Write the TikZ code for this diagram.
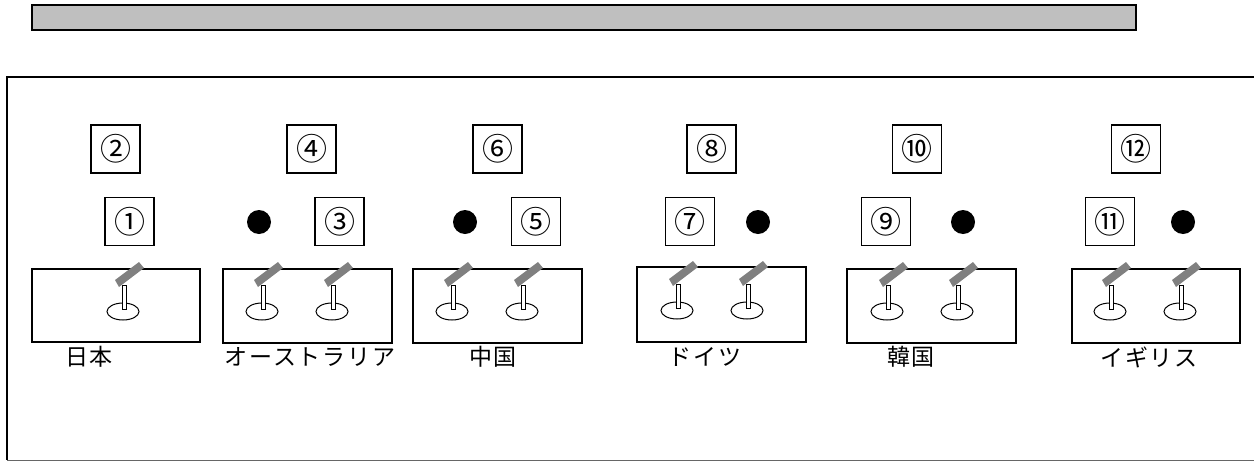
\documentclass[tikz,border=0pt]{standalone}
\usepackage{fontspec}
\newfontfamily\jp{Noto Sans CJK JP}
\newfontfamily\jpwide[LetterSpace=8]{Noto Sans CJK JP}
\begin{document}
\begin{tikzpicture}[x=1pt,y=-1pt,
  numbox/.style={draw, line width=1.2pt, minimum width=49pt, minimum height=48pt,
    inner sep=0pt, font=\jp\fontsize{31}{31}\selectfont},
  seatdot/.style={fill=black, circle, minimum size=24pt, inner sep=0pt},
  tablebox/.style={draw, line width=1.3pt},
  country/.style={font=\jpwide\fontsize{23}{23}\selectfont, inner sep=0pt},
  mic/.pic={
    \draw[line width=1pt, fill=white] (0,0) ellipse [x radius=16, y radius=8.5];
    \draw[line width=0.8pt, fill=white] (-0.5,-26) rectangle (3.5,-2);
    \fill[gray] (-8,-31.5) -- (16,-49.5) -- (21,-43.5) -- (-4,-24.5) -- cycle;
  }]
\useasboundingbox (0,0) rectangle (1254,461);

% heading bar and outer frame
\draw[line width=2.2pt, fill=black!25] (32,5) rectangle (1136,30);
\draw[line width=1.8pt] (1260,77) -- (7,77) -- (7,460);
\draw[line width=1pt, black!60] (7,460) -- (1260,460);

% numbered places, upper row
\node[numbox] (n2)  at (115.5,149) {②};
\node[numbox] (n4)  at (311.5,149) {④};
\node[numbox] (n6)  at (497.5,149) {⑥};
\node[numbox] (n8)  at (711.5,149) {⑧};
\node[numbox] (n10) at (917,149)   {⑩};
\node[numbox] (n12) at (1136,149)  {⑫};

% numbered places and seats, lower row
\node[numbox] (n1)  at (129.5,221.5) {①};
\node[seatdot] (d1) at (259,222) {};
\node[numbox] (n3)  at (339.5,221.5) {③};
\node[seatdot] (d2) at (465,222) {};
\node[numbox] (n5)  at (536,221.5) {⑤};
\node[numbox] (n7)  at (690,221.5) {⑦};
\node[seatdot] (d3) at (758,222) {};
\node[numbox] (n9)  at (886,221.5) {⑨};
\node[seatdot] (d4) at (963,222) {};
\node[numbox] (n11) at (1110,221.5) {⑪};
\node[seatdot] (d5) at (1183,222) {};

% delegation tables
\draw[tablebox] (32,269) rectangle (200,342);
\draw[tablebox] (223,269) rectangle (392,343);
\draw[tablebox] (413,269) rectangle (582,343);
\draw[tablebox] (637,267) rectangle (806,342);
\draw[tablebox] (847,269) rectangle (1016,343);
\draw[tablebox] (1072,269) rectangle (1240,343);

% microphones
\pic at (123,311.5) {mic};
\pic at (262,311.5) {mic};
\pic at (332,311.5) {mic};
\pic at (452,311.5) {mic};
\pic at (522,311.5) {mic};
\pic at (677,310.5) {mic};
\pic at (747,310.5) {mic};
\pic at (887,311.5) {mic};
\pic at (957,311.5) {mic};
\pic at (1110,311.5) {mic};
\pic at (1180,311.5) {mic};

% country names
\node[country] (jp) at (89,357)   {日本};
\node[country] (au) at (310,357)  {オーストラリア};
\node[country] (cn) at (493,357)  {中国};
\node[country] (de) at (705,357)  {ドイツ};
\node[country] (kr) at (911,357)  {韓国};
\node[country] (uk) at (1149,357) {イギリス};
\end{tikzpicture}
\end{document}
